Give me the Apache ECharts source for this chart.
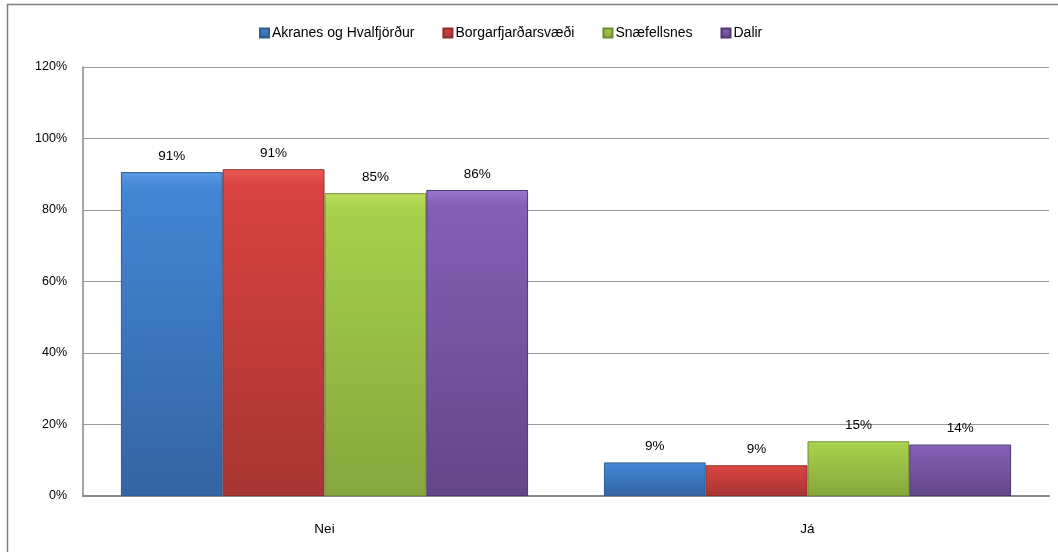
<!DOCTYPE html>
<html>
<head>
<meta charset="utf-8">
<script src="https://cdn.jsdelivr.net/npm/echarts@6/dist/echarts.min.js"></script>
<style>
  html, body { margin: 0; padding: 0; background: #fff; }
  #main { width: 1058px; height: 552px; }
</style>
</head>
<body>
<div id="main"></div>
<script>
// gögn
var categories = ['Nei', 'Já'];
var seriesNames = ['Akranes og Hvalfjörður', 'Borgarfjarðarsvæði', 'Snæfellsnes', 'Dalir'];
var akranes = [90.6, 9.4];
var borgarfjordur = [91.4, 8.6];
var snaefellsnes = [84.7, 15.3];
var dalir = [85.6, 14.4];
var yTicks = [0, 20, 40, 60, 80, 100, 120];

var FONT = 'Liberation Sans';
var colors = [
  ['#5a9ae6', '#4386d4', '#3464a3'],
  ['#ea5856', '#d94341', '#a73533'],
  ['#bde25f', '#a8d04c', '#86a73d'],
  ['#9a78cc', '#845fb5', '#634788']
];
var borders = ['#2f5d94', '#8f2c2a', '#6f8a32', '#4f3870'];

function grad(c) {
  return new echarts.graphic.LinearGradient(0, 0, 0, 1, [
    { offset: 0, color: c[0] },
    { offset: 0.05, color: c[1] },
    { offset: 1, color: c[2] }
  ]);
}

var allData = [akranes, borgarfjordur, snaefellsnes, dalir];

var myChart = echarts.init(document.getElementById('main'));
myChart.setOption({
  animation: false,
  textStyle: { fontFamily: FONT },
  graphic: [{
    type: 'rect',
    shape: { x: 7.5, y: 4.5, width: 1100, height: 600 },
    style: { fill: 'none', stroke: '#7f7f7f', lineWidth: 1.5 },
    silent: true
  }],
  legend: {
    top: 21,
    left: 254,
    itemWidth: 9,
    itemHeight: 9,
    itemGap: 28,
    icon: 'rect',
    textStyle: { fontSize: 14, color: '#000', fontFamily: FONT, padding: [0, 0, 0, -2] },
    data: seriesNames
  },
  grid: { left: 83, right: 9, top: 67, bottom: 56 },
  xAxis: {
    type: 'category',
    data: categories,
    axisTick: { show: false },
    axisLine: { lineStyle: { color: '#868686', width: 2 } },
    axisLabel: { margin: 26, fontSize: 13.5, color: '#000', fontFamily: FONT }
  },
  yAxis: {
    type: 'value',
    min: yTicks[0],
    max: yTicks[yTicks.length - 1],
    interval: 20,
    axisLine: { show: true, lineStyle: { color: '#868686', width: 1.5 } },
    axisTick: { show: false },
    splitLine: { lineStyle: { color: '#999', width: 1.2 } },
    axisLabel: { margin: 16, fontSize: 12.5, color: '#000', fontFamily: FONT, formatter: '{value}%' }
  },
  series: seriesNames.map(function (name, i) {
    return {
      name: name,
      type: 'bar',
      data: allData[i],
      barGap: '0%',
      barCategoryGap: '15.7%',
      itemStyle: { color: grad(colors[i]), borderColor: borders[i], borderWidth: 1 },
      label: {
        show: true,
        position: 'top',
        distance: 9,
        fontSize: 13.5,
        color: '#000',
        fontFamily: FONT,
        formatter: function (p) { return Math.round(p.value) + '%'; }
      }
    };
  })
});
</script>
</body>
</html>
